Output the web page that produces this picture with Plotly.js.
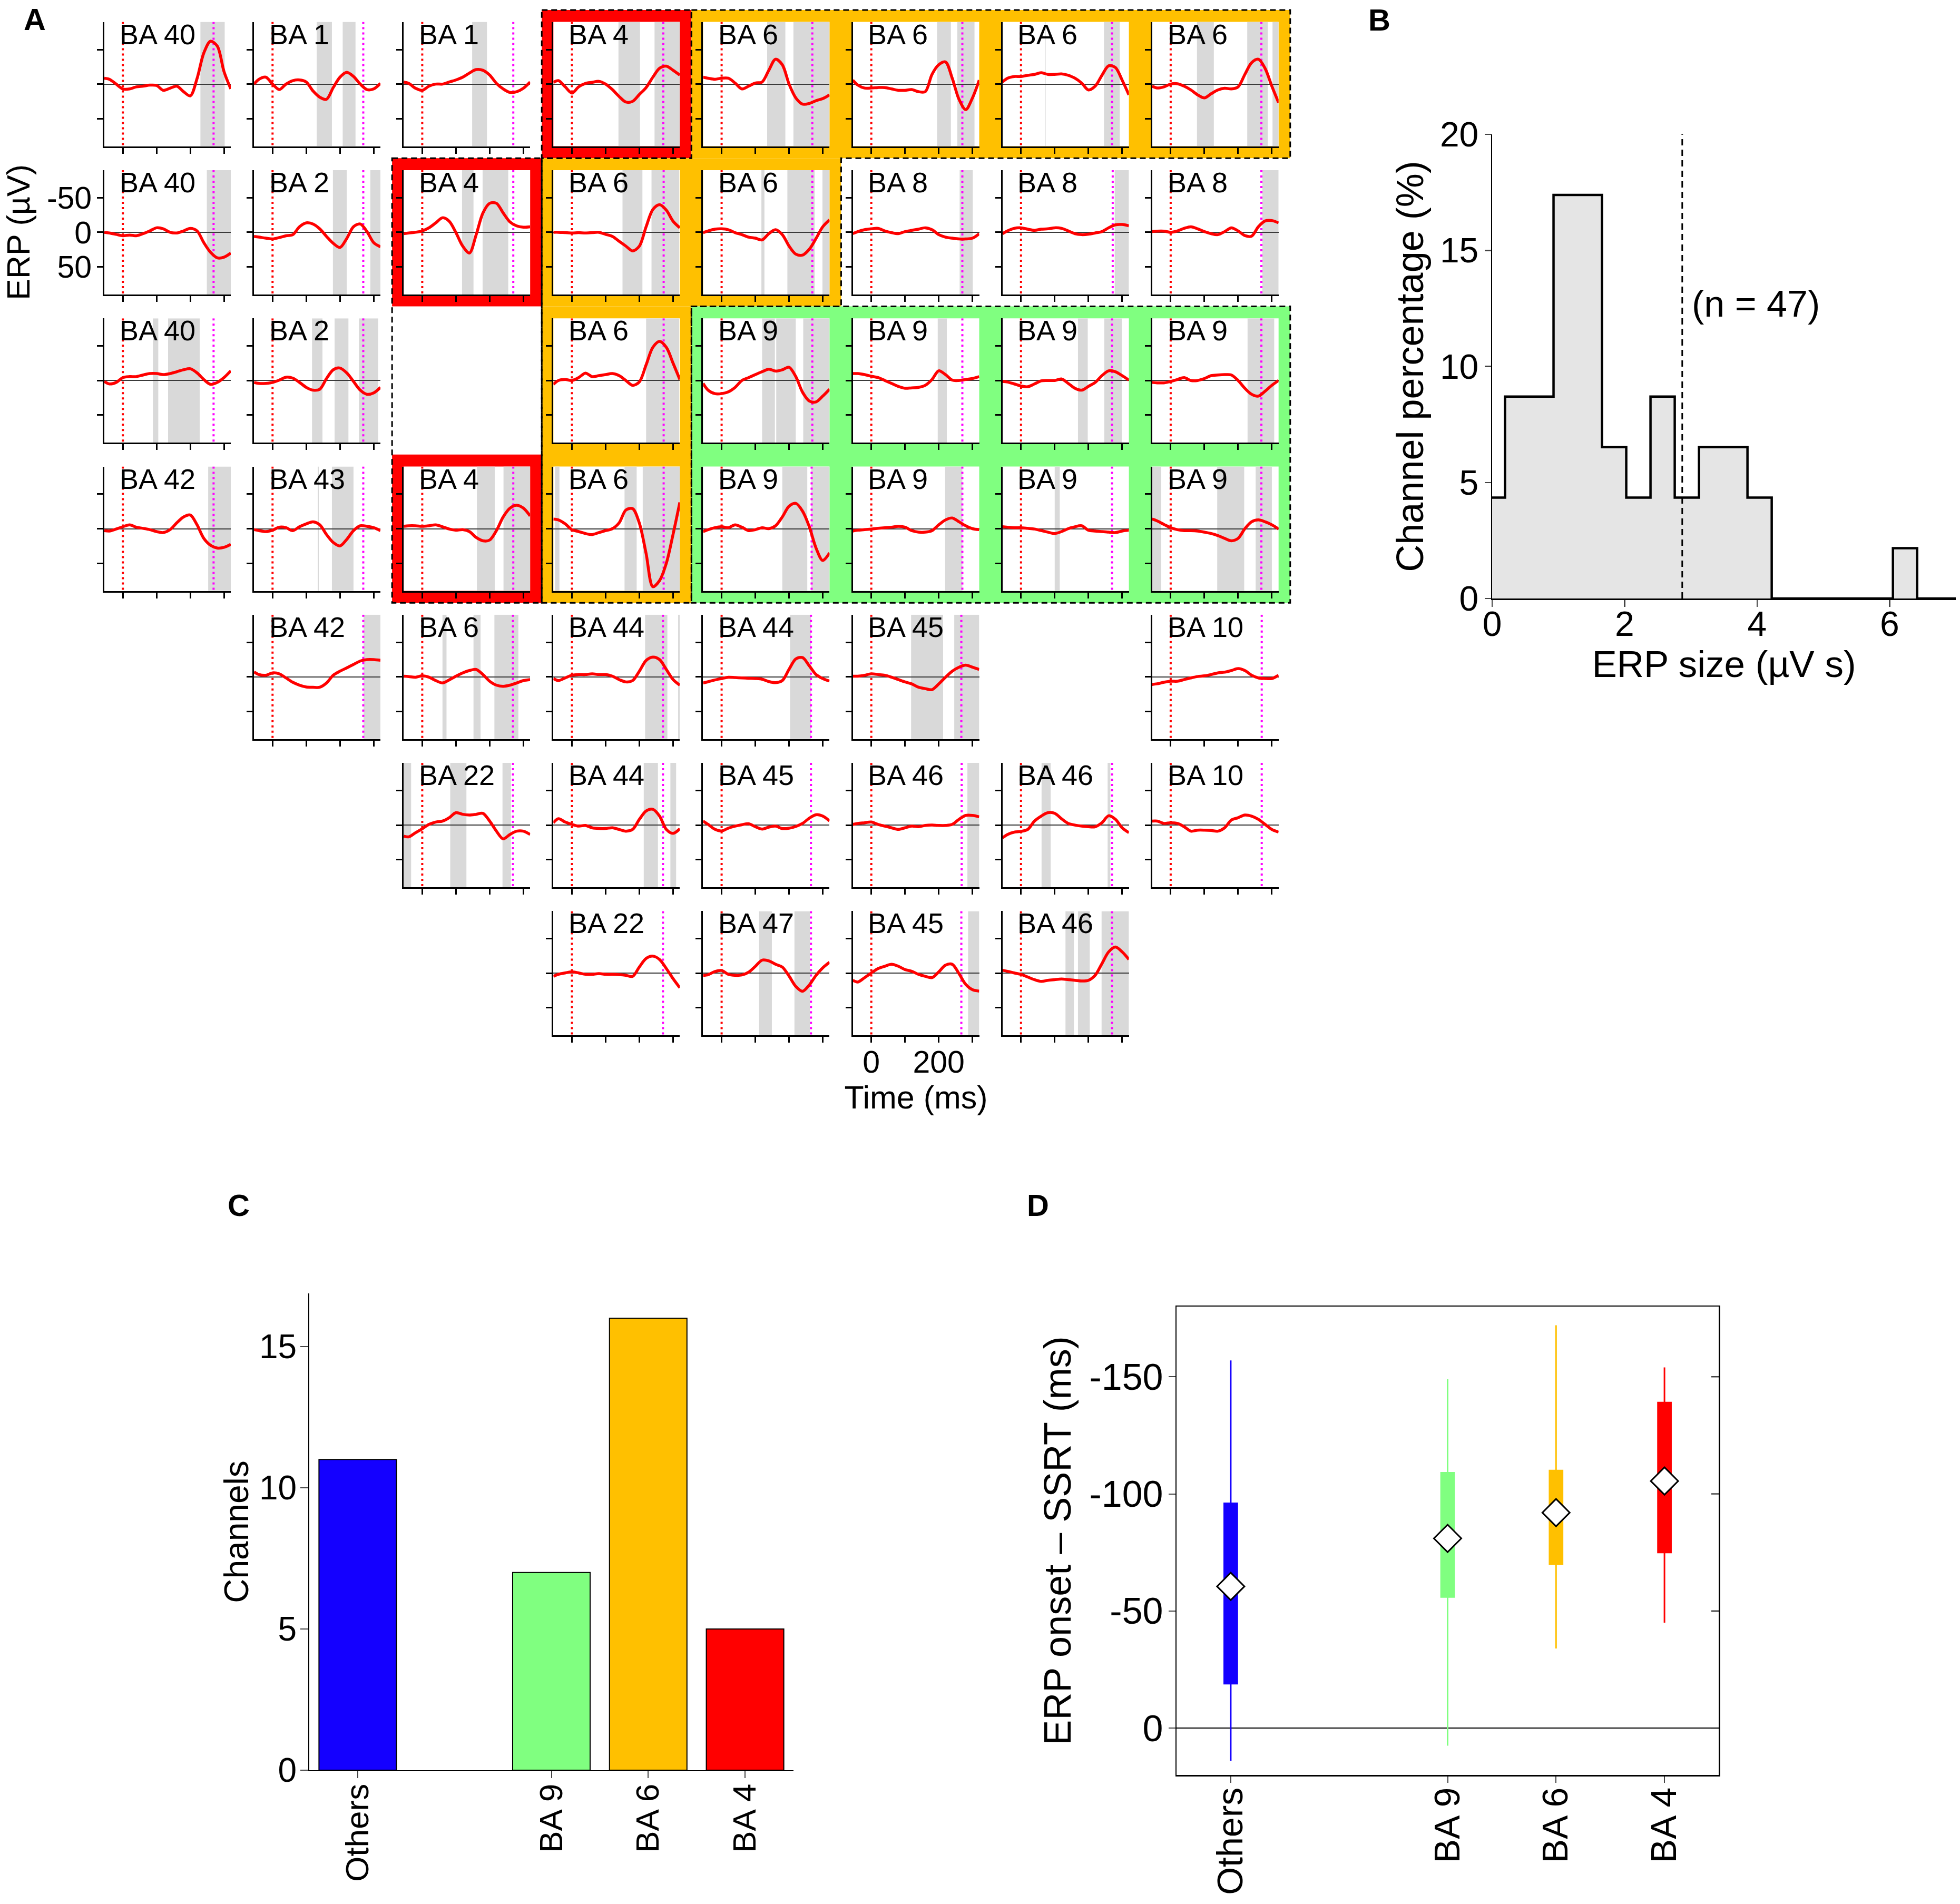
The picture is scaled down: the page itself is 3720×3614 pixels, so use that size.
<!DOCTYPE html>
<html><head><meta charset="utf-8">
<script src="https://cdn.plot.ly/plotly-3.0.1.min.js"></script>
<style>html,body{margin:0;padding:0;background:#fff}</style>
</head><body><div id="chart" style="width:3720px;height:3614px"></div>
<script>
// ---------------- DATA ----------------
// Panel A: time axis of every ERP trace (ms)
const timeMs = [-55,-40,-20,0,20,40,60,80,100,120,140,160,180,200,220,240,260,280,300,320];
// Panel A: Brodmann-area label of each channel (row-major reading order)
const cellLabels = ['BA 40','BA 1','BA 1','BA 4','BA 6','BA 6','BA 6','BA 6',
 'BA 40','BA 2','BA 4','BA 6','BA 6','BA 8','BA 8','BA 8',
 'BA 40','BA 2','BA 6','BA 9','BA 9','BA 9','BA 9',
 'BA 42','BA 43','BA 4','BA 6','BA 9','BA 9','BA 9','BA 9',
 'BA 42','BA 6','BA 44','BA 44','BA 45','BA 10',
 'BA 22','BA 44','BA 45','BA 46','BA 46','BA 10',
 'BA 22','BA 47','BA 45','BA 46'];
// Panel A: ERP values (µV) per channel, sampled at timeMs
const erpValues = [
 [-8.5,-7,0,7,7,4,3,1.5,2,9,6,3,11,17,-8,-45,-62,-55,-18,7],
 [0,-7,-10,0,8,0,-5,-6,-3,10,19,22,5,-10,-17,-11,0,8,7,-1],
 [-3,-1,6,9,3,0,0,-3,-6,-10,-16,-21,-20,-13,-1,7,12,11,6,-3],
 [-2.5,-5,4,13,4,-1,-2.5,-4,0,8,18,26,25,15,5,-10,-23,-26,-20,-13],
 [-10,-8.5,-7,-8.5,-8.5,-1.5,7,3,-1.5,-3,-20,-36,-28,0,20,29,28,24,21,15.6],
 [-5.7,1.4,5.7,5.7,5,5,7,9,9,8,11,11,-14,-28,-32,-8.5,22,37,20,-5.7],
 [-3,-8.5,-11,-11,-12.7,-14,-16.4,-14,-14,-14.7,-12.7,-8.5,-1.4,8.5,3,-12.7,-26.5,-24,-5.7,15.6],
 [3,5.7,4,0,-0.5,3,8.5,15.6,20,14,8.5,6,7,4,-14,-31,-36,-22.7,3,27],
 [0,1,3,5,4,5,2,-2,-6.5,-5,0,1,-2,-5.7,-2,15,29,37,36,30],
 [6,7,8.5,9.6,7.6,5,3.4,-8,-13.6,-12,-5,6,16,22,9,-8,-12,-1,15,21],
 [2,1,0,-2,-6.5,-13.6,-21,-16,0.5,20,30,3.4,-28,-42,-42,-28,-15,-9.3,-7.4,-8],
 [0,0,0.5,1,0.5,1,0.5,0,3,6,13,20,27,20,-8,-33,-40,-32,-16,-6.5],
 [0.5,-2,-4.5,-5,-3.7,0.5,3.4,7,8.5,11,2,-3.7,3.4,20,31.7,33,24.6,9,-8,-18],
 [2,-1,-3.7,-5,-5.7,-2,0.5,2,-1,-2.8,-4.5,-6.5,-3.7,3.4,7,8.5,9.6,9.6,8.5,2],
 [2,-2,-5.7,-6.5,-4.5,-2.8,-4.5,-5,-6.5,-5.7,-2,2,3.4,2.8,1,-1,-6.5,-10.8,-11.3,-9.3],
 [-1,-1.7,-1.7,0,-2,-5.7,-8,-5,-1,2,3.4,-1,-6.5,-2,4.8,5.7,-8,-16.4,-17,-13.6],
 [1.4,5,2.8,-4.2,-5.6,-5.6,-8,-10,-10,-8.5,-10,-12.7,-15.5,-17,-11,-1.4,5.6,2.8,-4.2,-14],
 [2.8,4.2,4.2,2.8,-0.5,-4.8,-3.4,2.8,10,14,12.7,-2.8,-15.5,-18,-11,1.4,14,20,18,10],
 [5.6,0,-1.4,0,-4.2,-10.7,-5.6,-7,-8.5,-10,-7,0,7,2,-22.6,-48,-56.5,-48,-25,-1.4],
 [4.2,14,19,19,16.4,10,0,-4.2,-8.5,-12.7,-16.4,-13.6,-15.5,-19.2,-5.6,17,29.7,31,22.6,12.7],
 [-10,-10,-8.5,-6.2,-4.2,0,4.2,8.5,11.3,10.7,10,7,-1.4,-14,-8.5,-0.5,0,-1.4,-2.8,-5.6],
 [1.4,2.2,5,8,9,5,0.5,0,0,-2.2,4.2,11.3,14,8.5,2.8,-7,-14,-12.7,-7,-0.5],
 [2.8,3.4,3.4,1.4,-1.4,-4.2,0,0,-2.8,-7,-8,-8.5,-8,0,11.3,20,22.6,15.5,7,0],
 [2.8,3.4,0.5,-2.8,-5.6,-2.2,-0.5,1.4,4.2,5.6,1.4,-8.5,-17,-19.8,-5.6,14,24,28,27,22.6],
 [1.4,2.8,4.2,2.2,-2.2,-1.4,2.8,-2.8,-7,-10,-5.6,8.5,20,25,15.5,2.8,-4.2,-3.4,-1.4,2.8],
 [-3.4,-4.2,-4.2,-3.4,-4.2,-5.6,-2.8,0.5,2.2,1.4,4.2,12.7,17.5,16.4,2.8,-17,-29.7,-34,-29.7,-18.4],
 [-14,-12.7,-7,1.4,4.2,7,8.5,5.6,2.8,0,-8.5,-27,-29,-8,36,84,75,50,8,-38],
 [4.2,1.4,-1.4,-2.8,-1.4,-5.6,-2.2,2.8,1.4,-1.4,0,-4.2,-17,-32.5,-36.7,-25.4,-2.8,28,46,35],
 [3.4,2.2,1.4,0.5,-0.5,-1.4,-2.2,-3.4,-2.2,2.8,5,5,2.8,-5.6,-12.7,-15.5,-10,-4.2,0,1.4],
 [-2.8,-2.2,-1.4,-1.4,-0.5,0.5,2.8,5,7,4.2,0,-2.8,-4.2,2.2,3.4,4.2,5,5.6,3.4,2.2],
 [-14,-11.3,-6.2,-1.4,1.4,2.8,2.8,3.4,5,7,10,14,17.5,14,0,-10,-12.7,-10,-5.6,0.5],
 [-7.3,-3.4,-2.4,-5.8,-4.4,1.5,7.8,12,14.6,15,15,8.8,-2.4,-8.3,-13,-18,-22.9,-25,-25,-24],
 [-1,-0.5,0.5,-1.5,0.5,5.3,8.8,4.4,-1,-5.8,-9.2,-10.7,-3.4,6.3,12,13.6,12,8.8,5.3,3.9],
 [2.4,5.3,1.5,-2.4,-3.4,-3.4,-4.4,-3.4,-3.4,-1,3.9,7.3,5.3,-8.3,-23.8,-28.7,-25,-10.7,3.9,12],
 [8.8,7,4.4,2.4,0.5,1,1.5,2,2.4,3.4,6.8,8.3,5.3,-11,-26,-28,-16,-3.4,2.4,6],
 [-1,-1,-2.4,-4.4,-3.4,-2.4,0.5,3.9,7.3,10.2,15,17,18.5,10.2,0.5,-8.3,-14,-17,-14,-10.7],
 [11,10,7.8,6.3,6.3,3.9,1.5,-0.5,-1.5,-3.4,-5.8,-6.8,-9.2,-12,-9.2,-2.4,1.5,2.4,2.4,-2.4],
 [16,17,11,5.3,-1,-4.4,-5.8,-10.7,-18,-15.6,-14.6,-15.6,-17,-5.8,8.8,20,13.6,8.8,8.8,13.6],
 [-3.4,-9.2,-4.4,-1,1.5,0.5,3.9,4.9,4.9,3.9,6.3,8.8,6.3,-8.3,-20.4,-22.9,-13,6.3,12,5.3],
 [-5.8,-1,6,8.5,4.4,1.5,-0.5,-2,2.4,5.8,3,1.5,5,4.5,2,-2.4,-10,-15,-13,-6],
 [-1,-2.4,-3.4,-4.4,-1,1.5,3.9,6.3,3.9,1.5,2.4,0.5,0,0.5,0.5,-1,-8.3,-14,-14,-12],
 [18.5,13.6,10.2,9.2,6.3,-5.8,-13,-18,-17,-9.2,-2.4,0,1.5,2.4,2.4,-3.4,-13.5,-8.3,3.9,11],
 [-5.8,-5.8,-2.4,-3.4,-2.4,2.4,8.8,7.3,7.3,7.8,8.8,3.9,-7.3,-10.7,-14.6,-13,-8.3,-1,6.3,10.2],
 [4.4,1.5,-0.5,-2,-0.5,1.5,1.5,0.5,1.5,1.5,2,2.9,4.4,-9.2,-21.4,-24.8,-19.9,-6.8,7.8,21],
 [3,2,-2.5,-4,1.5,3,2.5,-1.5,-10,-19,-18,-13,-9,4,19,26,17,3,-8,-16],
 [10.2,12.6,6.3,-0.5,-6.8,-10.2,-13,-10.2,-5.4,-2.9,1.5,4.4,6.3,-2,-11.7,-13,0.5,16,23.8,25.8],
 [-4.4,-2.9,-0.5,1.5,5.4,9.2,11.7,10.2,9.2,8.3,9.2,10.2,11.2,10.2,2.9,-14,-31,-38,-31,-20]
];
// Panel A: SSRT marker (magenta, ms) per channel
const ssrtMs = [269,269,270,271,269,270,270,269, 269,269,270,272,269,270,272,269,
 269,269,272,269,270,270,269, 269,269,270,272,267,270,270,269,
 269,269,270,265,267,270, 269,270,265,268,270,270, 270,265,267,270];
// Panel A: significant intervals (grey, ms) per channel
const shadedMs = [
 [[230,302]],[[131,176],[208,246]],[[148,192]],[[138,202],[245,320]],
 [[135,189],[213,320]],[[195,236],[255,306]],[[71,73],[246,293]],[[78,128],[227,288],[302,320]],
 [[249,320]],[[179,220],[290,320]],[[118,152],[179,255]],[[150,209],[236,318]],
 [[118,127],[195,276],[299,320]],[[262,301]],[[278,320]],[[272,320]],
 [[89,105],[134,228]],[[117,148],[184,225],[256,313]],[[220,318]],[[120,158],[162,220],[242,320]],
 [[197,224]],[[169,198],[247,299]],[[228,307]],
 [[253,320]],[[134,137],[176,240]],[[162,215],[241,320]],[[-50,-37],[156,192],[210,320]],
 [[180,254],[266,320]],[[219,270]],[[100,115]],[[-55,-28],[138,218],[252,300]],
 [[270,320]],[[60,72],[152,173],[214,285]],[[217,283],[315,320]],[[203,265]],[[118,213],[246,320]],[],
 [[-55,-33],[83,131],[238,263]],[[213,255],[292,309]],[],[[285,320]],[[61,88],[257,265]],[],
 [],[[111,149],[216,262]],[[287,320]],[[132,157],[169,204],[239,320]]
];
// Panel B: histogram of ERP size
const histEdges = [-0.171,0.195,0.561,0.927,1.293,1.659,2.025,2.391,2.757,3.123,3.489,3.855,4.221,4.587,4.953,5.319,5.685,6.051,6.417,6.783,7.149];
const histPercent = [4.35,8.7,8.7,17.39,17.39,6.52,4.35,8.7,4.35,6.52,6.52,4.35,0,0,0,0,0,2.17,0,0];
const medianSize = 2.87;
const nChannelsText = '(n = 47)';
// Panels C and D
const groupNames = ['Others','BA 9','BA 6','BA 4'];
const channelCounts = [11,7,16,5];
const onsetLow = [-157,-149,-172,-154];
const onsetQ1 = [-96,-109,-110,-139];
const onsetMedian = [-60.5,-81,-92,-105.5];
const onsetQ3 = [-19,-56,-70,-75];
const onsetHigh = [14,7.5,-34,-45];
const onsetTicks = [-150,-100,-50,0];
const onsetTickText = ['-150','-100','-50','0'];

// ---------------- LAYOUT / STYLE ----------------
const W = 3720, H = 3614;
const FONT = 'Liberation Sans, Arial, Helvetica, sans-serif';
const fx = p => p / W, fy = p => 1 - p / H;
const groupColors = ['#1400FF','#80FF80','#FFC000','#FF0000'];
const groupPos = [0,2,3,4];
// grid placement of each channel cell [row, col]
const cellGrid = [[0,0],[0,1],[0,2],[0,3],[0,4],[0,5],[0,6],[0,7],
 [1,0],[1,1],[1,2],[1,3],[1,4],[1,5],[1,6],[1,7],
 [2,0],[2,1],[2,3],[2,4],[2,5],[2,6],[2,7],
 [3,0],[3,1],[3,2],[3,3],[3,4],[3,5],[3,6],[3,7],
 [4,1],[4,2],[4,3],[4,4],[4,5],[4,7],
 [5,2],[5,3],[5,4],[5,5],[5,6],[5,7],
 [6,3],[6,4],[6,5],[6,6]];
const CX0 = 198, PX = 284.1, CW = 240, CY0 = 41.6, PY = 281.3, CH = 236;
const GX = k => CX0 - (PX - CW) / 2 + PX * k;
const GY = k => CY0 - (PY - CH) / 2 + PY * k;

const layout = {
  width: W, height: H, margin: {l:0, r:0, t:0, b:0, autoexpand: false},
  paper_bgcolor: '#ffffff', plot_bgcolor: '#ffffff', showlegend: false,
  font: {family: FONT, color: '#000', size: 56},
  shapes: [], annotations: []
};
const traces = [];

// coloured frames (groups), drawn below everything
const RED = '#FF0000', ORA = '#FFC000', GRN = '#80FF80';
const frameFills = [
  [RED,3,0,4,1],[RED,2,1,3,2],[RED,2,3,3,4],
  [ORA,4,0,8,1],[ORA,3,1,5,2],[ORA,3,2,4,4],
  [GRN,4,2,8,4]
];
frameFills.forEach(f => layout.shapes.push({type:'rect', xref:'paper', yref:'paper', layer:'below',
  x0: fx(GX(f[1])), x1: fx(GX(f[3])), y0: fy(GY(f[2])), y1: fy(GY(f[4])),
  fillcolor: f[0], line: {width: 0}}));
cellGrid.forEach(([r,c]) => {
  const L = CX0 + PX * c, T = CY0 + PY * r;
  layout.shapes.push({type:'rect', xref:'paper', yref:'paper', layer:'below',
    x0: fx(L), x1: fx(L + CW), y0: fy(T + CH), y1: fy(T), fillcolor:'#ffffff', line:{width:0}});
});
const gp = pts => 'M' + pts.map(([k,j]) => fx(GX(k)).toFixed(5) + ',' + fy(GY(j)).toFixed(5)).join('L') + 'Z';
const outlines = [
  [[3,0],[4,0],[4,1],[3,1]],
  [[2,1],[3,1],[3,4],[2,4]],
  [[4,0],[8,0],[8,1],[5,1],[5,2],[4,2],[4,4],[3,4],[3,1],[4,1]],
  [[4,2],[8,2],[8,4],[4,4]]
];
outlines.forEach(o => layout.shapes.push({type:'path', xref:'paper', yref:'paper', layer:'below',
  path: gp(o), line: {color:'#000', width: 3, dash: '11px,7px'}}));

// ---- Panel A cells ----
cellGrid.forEach(([r,c], i) => {
  const n = i + 1, s = n === 1 ? '' : String(n);
  const L = CX0 + PX * c, T = CY0 + PY * r;
  const xa = {
    domain: [fx(L), fx(L + CW)], range: [-55, 320], anchor: 'y' + s,
    showline: true, linecolor: '#000', linewidth: 3, mirror: false,
    ticks: 'outside', ticklen: 11, tickwidth: 3, tickcolor: '#000',
    tickmode: 'array', tickvals: [0,100,200,300], ticktext: ['0','','200',''],
    showticklabels: false, showgrid: false, zeroline: false, fixedrange: true,
    tickfont: {size: 59}
  };
  const ya = {
    domain: [fy(T + CH), fy(T)], range: [90, -90], anchor: 'x' + s,
    showline: true, linecolor: '#000', linewidth: 3,
    ticks: 'outside', ticklen: 11, tickwidth: 3, tickcolor: '#000',
    tickmode: 'array', tickvals: [-50,0,50], ticktext: ['-50','0','50'],
    showticklabels: false, showgrid: false, fixedrange: true,
    zeroline: true, zerolinecolor: '#3a3a3a', zerolinewidth: 2,
    tickfont: {size: 59}
  };
  if (i === 45) {
    xa.showticklabels = true; xa.automargin = true; xa.ticklabelstandoff = -14;
    xa.title = {text: 'Time (ms)', font: {size: 61}, standoff: 13};
  }
  if (i === 8) {
    ya.showticklabels = true; ya.automargin = true; ya.ticklabelstandoff = -2;
    ya.title = {text: 'ERP (µV)', font: {size: 61}, standoff: 13};
  }
  layout['xaxis' + s] = xa;
  layout['yaxis' + s] = ya;
  shadedMs[i].forEach(([a,b]) => layout.shapes.push({type:'rect', xref:'x' + s, yref:'y' + s, layer:'below',
    x0: a, x1: b, y0: -90, y1: 90, fillcolor: '#D9D9D9', line: {width: 0}}));
  layout.shapes.push({type:'line', xref:'x' + s, yref:'y' + s, layer:'below', x0: 0, x1: 0, y0: -90, y1: 90,
    line: {color:'#FF0000', width: 4, dash: '4px,6px'}});
  layout.shapes.push({type:'line', xref:'x' + s, yref:'y' + s, layer:'below', x0: ssrtMs[i], x1: ssrtMs[i], y0: -90, y1: 90,
    line: {color:'#FF00FF', width: 4, dash: '4px,6px'}});
  traces.push({type:'scatter', mode:'lines', x: timeMs, y: erpValues[i], xaxis:'x' + s, yaxis:'y' + s,
    line: {color:'#FF0000', width: 5.5, shape:'spline', smoothing: 0.9}, hoverinfo:'skip'});
  layout.annotations.push({xref:'x' + s, yref:'y' + s + ' domain', x: -13, y: 1, xanchor:'left', yanchor:'top',
    yshift: 9, showarrow: false, text: cellLabels[i], font: {size: 54, color:'#000'}});
});

// ---- Panel B ----
layout.xaxis48 = {domain: [fx(2832), fx(3712)], range: [0, 7], anchor: 'y48',
  showline: true, linecolor:'#000', linewidth: 2.5, ticks:'outside', ticklen: 13, tickwidth: 2.5,
  tickvals: [0,2,4,6], showgrid: false, zeroline: false, tickfont: {size: 66}, automargin: true,
  ticklabelstandoff: -24,
  title: {text: 'ERP size (µV s)', font: {size: 71}, standoff: 8}};
layout.yaxis48 = {domain: [fy(1136), fy(255)], range: [0, 20], anchor: 'x48',
  showline: true, linecolor:'#000', linewidth: 2.5, ticks:'outside', ticklen: 12, tickwidth: 2.5,
  tickvals: [0,5,10,15,20], showgrid: false, zeroline: false, tickfont: {size: 66}, automargin: true,
  ticklabelstandoff: -2,
  title: {text: 'Channel percentage (%)', font: {size: 72}, standoff: 8}};
traces.push({type:'scatter', mode:'lines', x: histEdges, y: histPercent.concat([0]), xaxis:'x48', yaxis:'y48',
  line: {shape:'hv', color:'#000', width: 4.5}, fill:'tozeroy', fillcolor:'#E5E5E5', hoverinfo:'skip'});
layout.shapes.push({type:'line', xref:'x48', yref:'y48', x0: medianSize, x1: medianSize, y0: 0, y1: 20,
  line: {color:'#000', width: 3, dash:'12px,8px'}});
layout.annotations.push({xref:'x48', yref:'y48', x: 3.0, y: 12.7, xanchor:'left', yanchor:'middle',
  showarrow: false, text: nChannelsText, font: {size: 70}});

// ---- Panel C ----
layout.xaxis49 = {domain: [fx(587), fx(1506)], range: [-0.5, 4.5], anchor: 'y49',
  showline: true, linecolor:'#000', linewidth: 2, ticks:'outside', ticklen: 13, tickwidth: 2,
  tickmode:'array', tickvals: groupPos, ticktext: groupNames, tickangle: -90, ticklabelstandoff: -14,
  showgrid: false, zeroline: false, tickfont: {size: 62}};
layout.yaxis49 = {domain: [fy(3360), fy(2455)], range: [0, 16.88], anchor: 'x49',
  showline: true, linecolor:'#000', linewidth: 2, ticks:'outside', ticklen: 15, tickwidth: 2,
  tickvals: [0,5,10,15], showgrid: false, zeroline: false, tickfont: {size: 64}, automargin: true,
  ticklabelstandoff: -6,
  title: {text: 'Channels', font: {size: 64}, standoff: 0}};
traces.push({type:'bar', x: groupPos, y: channelCounts, width: 0.8, xaxis:'x49', yaxis:'y49',
  marker: {color: groupColors, line: {color:'#000', width: 2}}, hoverinfo:'skip'});

// ---- Panel D ----
layout.xaxis50 = {domain: [fx(2233), fx(3262)], range: [-0.5, 4.5], anchor: 'y50',
  showline: true, linecolor:'#000', linewidth: 2.5, mirror: true, ticks:'outside', ticklen: 12, tickwidth: 2,
  tickmode:'array', tickvals: groupPos, ticktext: groupNames, tickangle: -90, ticklabelstandoff: -18,
  showgrid: false, zeroline: false, tickfont: {size: 68}};
layout.yaxis50 = {domain: [fy(3369), fy(2480)], range: [20, -180], anchor: 'x50',
  showline: true, linecolor:'#000', linewidth: 2.5, mirror: true, ticks:'outside', ticklen: 13, tickwidth: 2,
  tickmode:'array', tickvals: onsetTicks, ticktext: onsetTickText,
  showgrid: false, zeroline: true, zerolinecolor:'#000', zerolinewidth: 2.5, tickfont: {size: 70}, automargin: true,
  ticklabelstandoff: -4,
  title: {text: 'ERP onset – SSRT (ms)', font: {size: 72}, standoff: 11}};
// small inward ticks on the right frame of panel D
onsetTicks.forEach(v => layout.shapes.push({type:'line', xref:'x50 domain', yref:'y50',
  x0: 1 - 14 / 1029, x1: 1, y0: v, y1: v, line: {color:'#000', width: 2}}));
groupNames.forEach((g, i) => traces.push({type:'box', x: [groupPos[i]], q1: [onsetQ1[i]], median: [onsetMedian[i]],
  q3: [onsetQ3[i]], lowerfence: [onsetLow[i]], upperfence: [onsetHigh[i]], xaxis:'x50', yaxis:'y50',
  fillcolor: groupColors[i], line: {color: groupColors[i], width: 3}, whiskerwidth: 0, width: 0.12,
  boxpoints: false, hoverinfo:'skip', name: g}));
traces.push({type:'scatter', mode:'markers', x: groupPos, y: onsetMedian, xaxis:'x50', yaxis:'y50',
  marker: {symbol:'diamond', size: 40, color:'#ffffff', line: {color:'#000', width: 3}}, hoverinfo:'skip'});

// panel letters
[['A',66,37],['B',2618,38],['C',453,2287],['D',1970,2287]].forEach(([t,x,y]) =>
  layout.annotations.push({xref:'paper', yref:'paper', x: fx(x), y: fy(y), xanchor:'center', yanchor:'middle',
    showarrow: false, text: '<b>' + t + '</b>', font: {size: 58, family: FONT}}));

Plotly.newPlot('chart', traces, layout, {staticPlot: true, displayModeBar: false});
</script></body></html>
